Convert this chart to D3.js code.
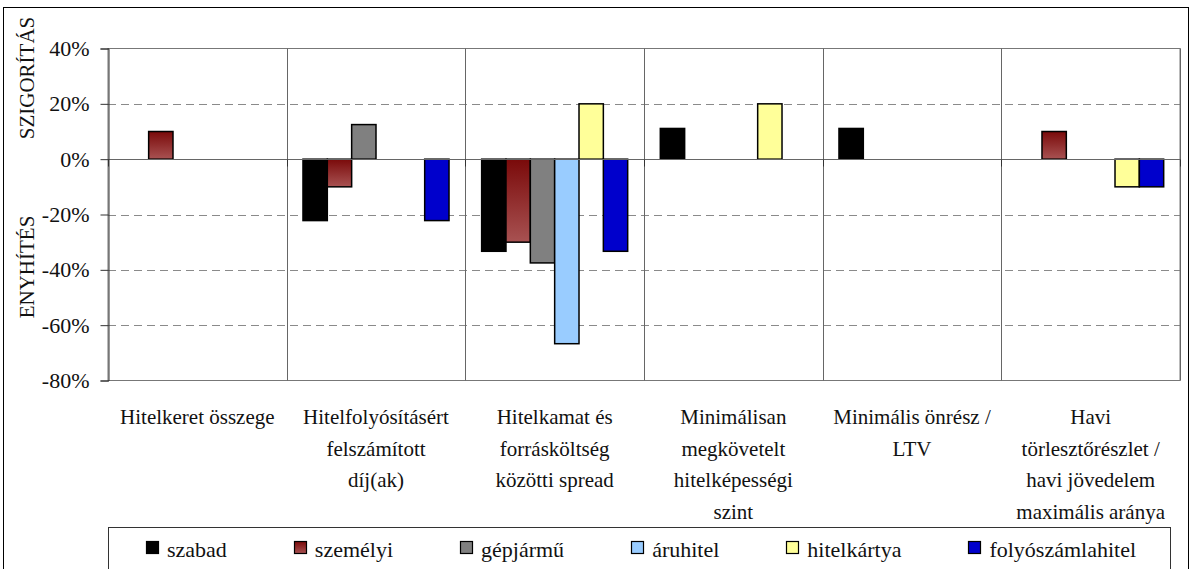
<!DOCTYPE html>
<html>
<head>
<meta charset="utf-8">
<script src="https://cdn.jsdelivr.net/npm/d3@7"></script>
<style>
  html, body { margin: 0; padding: 0; background: #fff; }
  svg { display: block; }
  svg text { font-family: "Liberation Serif", "Times New Roman", Tinos, "DejaVu Serif", "Noto Serif", serif !important; fill: #111; }
</style>
</head>
<body>
<svg id="chart" width="1192" height="569"></svg>
<script>
// ---- data ----
const categories = [
  "Hitelkeret összege",
  "Hitelfolyósításért\nfelszámított\ndíj(ak)",
  "Hitelkamat és\nforrásköltség\nközötti spread",
  "Minimálisan\nmegkövetelt\nhitelképességi\nszint",
  "Minimális önrész /\nLTV",
  "Havi\ntörlesztőrészlet /\nhavi jövedelem\nmaximális aránya"
];
const seriesNames = ["szabad", "személyi", "gépjármű", "áruhitel", "hitelkártya", "folyószámlahitel"];
const szabad           = [null, -22.2, -33.3, 11.1, 11.1, null];
const szemelyi         = [10, -10, -30, null, null, 10];
const gepjarmu         = [null, 12.5, -37.5, null, null, null];
const aruhitel         = [null, null, -66.7, null, null, null];
const hitelkartya      = [null, null, 20, 20, null, -10];
const folyoszamlahitel = [null, -22.2, -33.3, null, null, -10];
const seriesValues = [szabad, szemelyi, gepjarmu, aruhitel, hitelkartya, folyoszamlahitel];
const yTicks = [40, 20, 0, -20, -40, -60, -80];
const yTickLabels = ["40%", "20%", "0%", "-20%", "-40%", "-60%", "-80%"];
const axisTitleUp = "SZIGORÍTÁS";
const axisTitleDown = "ENYHÍTÉS";

// ---- styles ----
const FONT = "'Liberation Serif', 'Times New Roman', Tinos, 'DejaVu Serif', 'Noto Serif', serif";
const colors = ["#000000", "url(#gradRed)", "#808080", "#99ccff", "#ffff99", "#0000cc"];
const legendColors = colors;

const svg = d3.select("#chart");
const plot = { left: 108, right: 1180, top: 48.5, bottom: 380.5 };

const defs = svg.append("defs");
const g = defs.append("linearGradient").attr("id", "gradRed")
  .attr("x1", 0).attr("y1", 0).attr("x2", 0).attr("y2", 1);
g.append("stop").attr("offset", "0%").attr("stop-color", "#7a0a0a");
g.append("stop").attr("offset", "100%").attr("stop-color", "#a85252");

// outer border
svg.append("rect").attr("x", 3.5).attr("y", 7.5).attr("width", 1185).attr("height", 600)
  .attr("fill", "none").attr("stroke", "#000").attr("stroke-width", 1);

const y = d3.scaleLinear().domain([-80, 40]).range([plot.bottom, plot.top]);
const x0 = d3.scaleBand().domain(d3.range(categories.length)).range([plot.left, plot.right])
  .paddingInner(0).paddingOuter(0);
const x1 = d3.scaleBand().domain(d3.range(seriesNames.length)).range([0, x0.bandwidth()])
  .paddingInner(0).paddingOuter(0.67);

// dashed gridlines
svg.append("g").selectAll("line").data(yTicks.filter(t => t !== 0 && t !== 40 && t !== -80)).join("line")
  .attr("x1", plot.left).attr("x2", plot.right)
  .attr("y1", d => Math.round(y(d)) + 0.5).attr("y2", d => Math.round(y(d)) + 0.5)
  .attr("stroke", "#8a8a8a").attr("stroke-width", 1).attr("stroke-dasharray", "8,5");

// plot border
svg.append("rect").attr("x", plot.left).attr("y", plot.top)
  .attr("width", plot.right - plot.left).attr("height", plot.bottom - plot.top)
  .attr("fill", "none").attr("stroke", "#777").attr("stroke-width", 1);

// category separators
svg.append("g").selectAll("line").data(d3.range(1, categories.length + 1)).join("line")
  .attr("x1", i => Math.round(plot.left + i * x0.bandwidth()) + 0.5)
  .attr("x2", i => Math.round(plot.left + i * x0.bandwidth()) + 0.5)
  .attr("y1", plot.top).attr("y2", plot.bottom)
  .attr("stroke", "#666").attr("stroke-width", 1);

// bars
const barData = [];
seriesValues.forEach((vals, s) => vals.forEach((v, c) => {
  if (v !== null) barData.push({ s, c, v });
}));
svg.append("g").selectAll("rect").data(barData).join("rect")
  .attr("x", d => x0(d.c) + x1(d.s))
  .attr("width", x1.bandwidth())
  .attr("y", d => y(Math.max(0, d.v)))
  .attr("height", d => Math.abs(y(d.v) - y(0)))
  .attr("fill", d => colors[d.s])
  .attr("stroke", "#000").attr("stroke-width", 1.5);

// zero line
const zy = Math.round(y(0)) + 0.5;
svg.append("line").attr("x1", plot.left).attr("x2", plot.right).attr("y1", zy).attr("y2", zy)
  .attr("stroke", "#666").attr("stroke-width", 1.2);
svg.append("g").selectAll("line").data(d3.range(0, categories.length + 1)).join("line")
  .attr("x1", i => Math.round(plot.left + i * x0.bandwidth()) + 0.5)
  .attr("x2", i => Math.round(plot.left + i * x0.bandwidth()) + 0.5)
  .attr("y1", zy).attr("y2", zy + 7)
  .attr("stroke", "#333").attr("stroke-width", 1);

// y axis
const yAxis = d3.axisLeft(y).tickValues(yTicks).tickSize(8).tickPadding(11)
  .tickFormat((d, i) => yTickLabels[i]);
const ya = svg.append("g").attr("transform", `translate(${plot.left + 0.5},0)`).call(yAxis)
  .attr("font-family", FONT).attr("font-size", 22);
ya.select(".domain").attr("stroke", "#333");
ya.selectAll(".tick line").attr("stroke", "#333");
ya.selectAll(".tick text").attr("font-family", FONT).attr("fill", "#111");

// axis titles
svg.append("text").attr("transform", "translate(34,78) rotate(-90)").attr("font-family", FONT)
  .attr("text-anchor", "middle").attr("font-size", 21).text(axisTitleUp);
svg.append("text").attr("transform", "translate(34,267) rotate(-90)").attr("font-family", FONT)
  .attr("text-anchor", "middle").attr("font-size", 21).text(axisTitleDown);

// category labels
const cl = svg.append("g");
categories.forEach((c, i) => {
  const t = cl.append("text").attr("text-anchor", "middle").attr("font-size", 21).attr("font-family", FONT)
    .attr("x", x0(i) + x0.bandwidth() / 2).attr("y", 424);
  c.split("\n").forEach((line, k) => {
    t.append("tspan").attr("x", x0(i) + x0.bandwidth() / 2).attr("y", 424 + k * 31.7).text(line);
  });
});

// legend
const lg = { x: 108, y: 527, w: 1062 };
svg.append("rect").attr("x", lg.x + 0.5).attr("y", lg.y + 0.5).attr("width", lg.w).attr("height", 80)
  .attr("fill", "#fff").attr("stroke", "#333").attr("stroke-width", 1);
const items = svg.append("g");
const sq = 12, gap1 = 9, gap2 = 67;
const widths = [];
const texts = seriesNames.map((n, i) => {
  const t = items.append("text").attr("font-size", 22).attr("font-family", FONT).attr("y", 557).text(n);
  widths.push(t.node().getComputedTextLength());
  return t;
});
const total = d3.sum(widths) + seriesNames.length * (sq + gap1) + (seriesNames.length - 1) * gap2;
let cx = lg.x + (lg.w - total) / 2 + 2;
seriesNames.forEach((n, i) => {
  items.append("rect").attr("x", Math.round(cx) + 0.5).attr("y", 541.5).attr("width", sq).attr("height", sq)
    .attr("fill", legendColors[i]).attr("stroke", "#000").attr("stroke-width", 1.2);
  texts[i].attr("x", cx + sq + gap1);
  cx += sq + gap1 + widths[i] + gap2;
});
</script>
</body>
</html>
